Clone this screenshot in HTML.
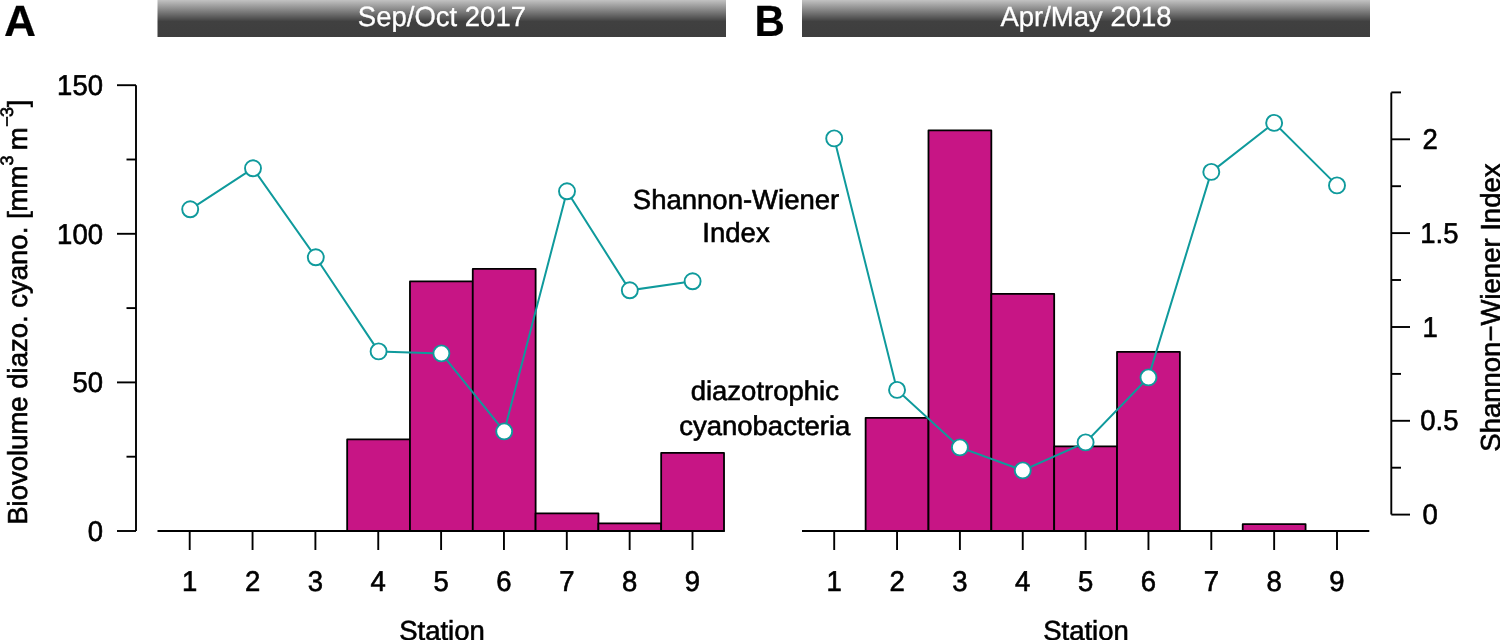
<!DOCTYPE html>
<html><head><meta charset="utf-8"><title>Figure</title>
<style>
html,body{margin:0;padding:0;background:#fff;}
body{width:1500px;height:640px;overflow:hidden;}
svg{display:block;}
text{font-family:"Liberation Sans",sans-serif;fill:#000;stroke:#000;stroke-width:0.6px;font-size:27.5px;text-rendering:geometricPrecision;}
text.w{fill:#fff;stroke:#fff;stroke-width:0.3px;}
text.b{font-size:42px;font-weight:bold;stroke-width:0.2px;}
.s{font-size:18px;}
.ax{stroke:#000;stroke-width:1.9;fill:none;}
.bar{fill:#c71585;stroke:#000;stroke-width:1.8;stroke-linejoin:round;}
.ln{stroke:#0f9a9c;stroke-width:2;fill:none;}
.pt{fill:#fff;stroke:#0f9a9c;stroke-width:1.9;}
</style></head><body>
<svg width="1500" height="640" viewBox="0 0 1500 640">
<defs><linearGradient id="g" x1="0" y1="0" x2="0" y2="1">
<stop offset="0" stop-color="#c2c2c2"/><stop offset="0.58" stop-color="#404040"/><stop offset="1" stop-color="#3e3e3e"/>
</linearGradient></defs>
<rect x="0" y="0" width="1500" height="640" fill="#fff"/>

<rect x="157.5" y="0" width="568.5" height="37" fill="url(#g)"/>
<rect x="802" y="0" width="568" height="37" fill="url(#g)"/>
<text transform="translate(441.90,26.40) scale(1.000,1.010)" text-anchor="middle" class="w">Sep/Oct 2017</text>
<text transform="translate(1086.00,26.40) scale(1.000,1.010)" text-anchor="middle" class="w">Apr/May 2018</text>
<text transform="translate(4.00,36.00) scale(1.055,1.040)" class="b">A</text>
<text transform="translate(754.40,36.00) scale(1.000,1.040)" class="b">B</text>
<path class="ax" d="M136 85.2V531"/>
<path class="ax" d="M117 531.0H136"/>
<text transform="translate(103.00,540.80) scale(1.000,1.040)" text-anchor="end">0</text>
<path class="ax" d="M117 382.4H136"/>
<text transform="translate(103.00,392.20) scale(1.000,1.040)" text-anchor="end">50</text>
<path class="ax" d="M117 233.8H136"/>
<text transform="translate(103.00,243.60) scale(1.000,1.040)" text-anchor="end">100</text>
<path class="ax" d="M117 85.2H136"/>
<text transform="translate(103.00,95.00) scale(1.000,1.040)" text-anchor="end">150</text>
<path class="ax" d="M126.5 456.7H136"/>
<path class="ax" d="M126.5 308.1H136"/>
<path class="ax" d="M126.5 159.5H136"/>
<text transform="translate(27.00,524.80) rotate(-90)">Biovolume diazo. cyano. [mm<tspan dy="-14.30" class="s">3</tspan><tspan dy="14.30" dx="-2.3"> m</tspan><tspan dy="-14.30" dx="0.7" class="s">−</tspan><tspan dx="-0.8" class="s">3</tspan><tspan dy="14.30" dx="-0.4">]</tspan></text>
<rect class="bar" x="347.17" y="439.4" width="62.85" height="91.6"/>
<rect class="bar" x="409.97" y="281.4" width="62.85" height="249.6"/>
<rect class="bar" x="472.77" y="268.9" width="62.85" height="262.1"/>
<rect class="bar" x="535.58" y="513.3" width="62.85" height="17.7"/>
<rect class="bar" x="598.38" y="523.3" width="62.85" height="7.7"/>
<rect class="bar" x="661.17" y="452.9" width="62.85" height="78.1"/>
<path class="ax" d="M157.5 531.0H724.6"/>
<path class="ax" d="M189.70 531.0V550.0"/>
<text transform="translate(189.70,590.50) scale(1.000,1.040)" text-anchor="middle">1</text>
<path class="ax" d="M252.55 531.0V550.0"/>
<text transform="translate(252.55,590.50) scale(1.000,1.040)" text-anchor="middle">2</text>
<path class="ax" d="M315.40 531.0V550.0"/>
<text transform="translate(315.40,590.50) scale(1.000,1.040)" text-anchor="middle">3</text>
<path class="ax" d="M378.25 531.0V550.0"/>
<text transform="translate(378.25,590.50) scale(1.000,1.040)" text-anchor="middle">4</text>
<path class="ax" d="M441.10 531.0V550.0"/>
<text transform="translate(441.10,590.50) scale(1.000,1.040)" text-anchor="middle">5</text>
<path class="ax" d="M503.95 531.0V550.0"/>
<text transform="translate(503.95,590.50) scale(1.000,1.040)" text-anchor="middle">6</text>
<path class="ax" d="M566.80 531.0V550.0"/>
<text transform="translate(566.80,590.50) scale(1.000,1.040)" text-anchor="middle">7</text>
<path class="ax" d="M629.65 531.0V550.0"/>
<text transform="translate(629.65,590.50) scale(1.000,1.040)" text-anchor="middle">8</text>
<path class="ax" d="M692.50 531.0V550.0"/>
<text transform="translate(692.50,590.50) scale(1.000,1.040)" text-anchor="middle">9</text>
<polyline class="ln" points="190.20,209.3 253.00,168.3 315.80,257.3 378.60,351.4 441.40,353.4 504.20,431.4 567.00,191.3 629.80,290.3 692.60,281.3"/>
<circle class="pt" cx="190.20" cy="209.3" r="8"/>
<circle class="pt" cx="253.00" cy="168.3" r="8"/>
<circle class="pt" cx="315.80" cy="257.3" r="8"/>
<circle class="pt" cx="378.60" cy="351.4" r="8"/>
<circle class="pt" cx="441.40" cy="353.4" r="8"/>
<circle class="pt" cx="504.20" cy="431.4" r="8"/>
<circle class="pt" cx="567.00" cy="191.3" r="8"/>
<circle class="pt" cx="629.80" cy="290.3" r="8"/>
<circle class="pt" cx="692.60" cy="281.3" r="8"/>
<rect class="bar" x="865.63" y="417.8" width="62.85" height="113.2"/>
<rect class="bar" x="928.48" y="130.4" width="62.85" height="400.6"/>
<rect class="bar" x="991.33" y="293.8" width="62.85" height="237.2"/>
<rect class="bar" x="1054.18" y="446.3" width="62.85" height="84.7"/>
<rect class="bar" x="1117.03" y="351.8" width="62.85" height="179.2"/>
<rect class="bar" x="1242.73" y="524.2" width="62.85" height="6.8"/>
<path class="ax" d="M802.0 531.0H1369.3"/>
<path class="ax" d="M834.20 531.0V550.0"/>
<text transform="translate(834.20,590.50) scale(1.000,1.040)" text-anchor="middle">1</text>
<path class="ax" d="M897.05 531.0V550.0"/>
<text transform="translate(897.05,590.50) scale(1.000,1.040)" text-anchor="middle">2</text>
<path class="ax" d="M959.90 531.0V550.0"/>
<text transform="translate(959.90,590.50) scale(1.000,1.040)" text-anchor="middle">3</text>
<path class="ax" d="M1022.75 531.0V550.0"/>
<text transform="translate(1022.75,590.50) scale(1.000,1.040)" text-anchor="middle">4</text>
<path class="ax" d="M1085.60 531.0V550.0"/>
<text transform="translate(1085.60,590.50) scale(1.000,1.040)" text-anchor="middle">5</text>
<path class="ax" d="M1148.45 531.0V550.0"/>
<text transform="translate(1148.45,590.50) scale(1.000,1.040)" text-anchor="middle">6</text>
<path class="ax" d="M1211.30 531.0V550.0"/>
<text transform="translate(1211.30,590.50) scale(1.000,1.040)" text-anchor="middle">7</text>
<path class="ax" d="M1274.15 531.0V550.0"/>
<text transform="translate(1274.15,590.50) scale(1.000,1.040)" text-anchor="middle">8</text>
<path class="ax" d="M1337.00 531.0V550.0"/>
<text transform="translate(1337.00,590.50) scale(1.000,1.040)" text-anchor="middle">9</text>
<polyline class="ln" points="834.20,138.4 897.05,389.9 959.90,447.4 1022.75,470.4 1085.60,442.4 1148.45,377.4 1211.30,171.9 1274.15,122.9 1337.00,185.4"/>
<circle class="pt" cx="834.20" cy="138.4" r="8"/>
<circle class="pt" cx="897.05" cy="389.9" r="8"/>
<circle class="pt" cx="959.90" cy="447.4" r="8"/>
<circle class="pt" cx="1022.75" cy="470.4" r="8"/>
<circle class="pt" cx="1085.60" cy="442.4" r="8"/>
<circle class="pt" cx="1148.45" cy="377.4" r="8"/>
<circle class="pt" cx="1211.30" cy="171.9" r="8"/>
<circle class="pt" cx="1274.15" cy="122.9" r="8"/>
<circle class="pt" cx="1337.00" cy="185.4" r="8"/>
<text transform="translate(442.00,639.50)" text-anchor="middle">Station</text>
<text transform="translate(1086.00,639.50)" text-anchor="middle">Station</text>
<path class="ax" d="M1391.3 92.4V514.6"/>
<path class="ax" d="M1391.3 514.6H1410"/>
<text transform="translate(1422.60,524.20) scale(1.000,1.040)">0</text>
<path class="ax" d="M1391.3 420.8H1410"/>
<text transform="translate(1420.20,430.38) scale(1.000,1.040)">0.5</text>
<path class="ax" d="M1391.3 327.0H1410"/>
<text transform="translate(1422.60,336.55) scale(1.000,1.040)">1</text>
<path class="ax" d="M1391.3 233.1H1410"/>
<text transform="translate(1420.20,242.72) scale(1.000,1.040)">1.5</text>
<path class="ax" d="M1391.3 139.3H1410"/>
<text transform="translate(1422.60,148.90) scale(1.000,1.040)">2</text>
<path class="ax" d="M1391.3 467.7H1401"/>
<path class="ax" d="M1391.3 373.9H1401"/>
<path class="ax" d="M1391.3 280.0H1401"/>
<path class="ax" d="M1391.3 186.2H1401"/>
<path class="ax" d="M1391.3 92.4H1401"/>
<text transform="translate(1500.00,307.60) rotate(-90)" text-anchor="middle">Shannon−Wiener Index</text>
<text transform="translate(736.00,208.50)" text-anchor="middle">Shannon-Wiener</text>
<text transform="translate(736.00,242.40)" text-anchor="middle">Index</text>
<text transform="translate(764.80,400.20) scale(1.000,0.985)" text-anchor="middle">diazotrophic</text>
<text transform="translate(764.80,434.90) scale(1.000,0.985)" text-anchor="middle">cyanobacteria</text>
</svg></body></html>
